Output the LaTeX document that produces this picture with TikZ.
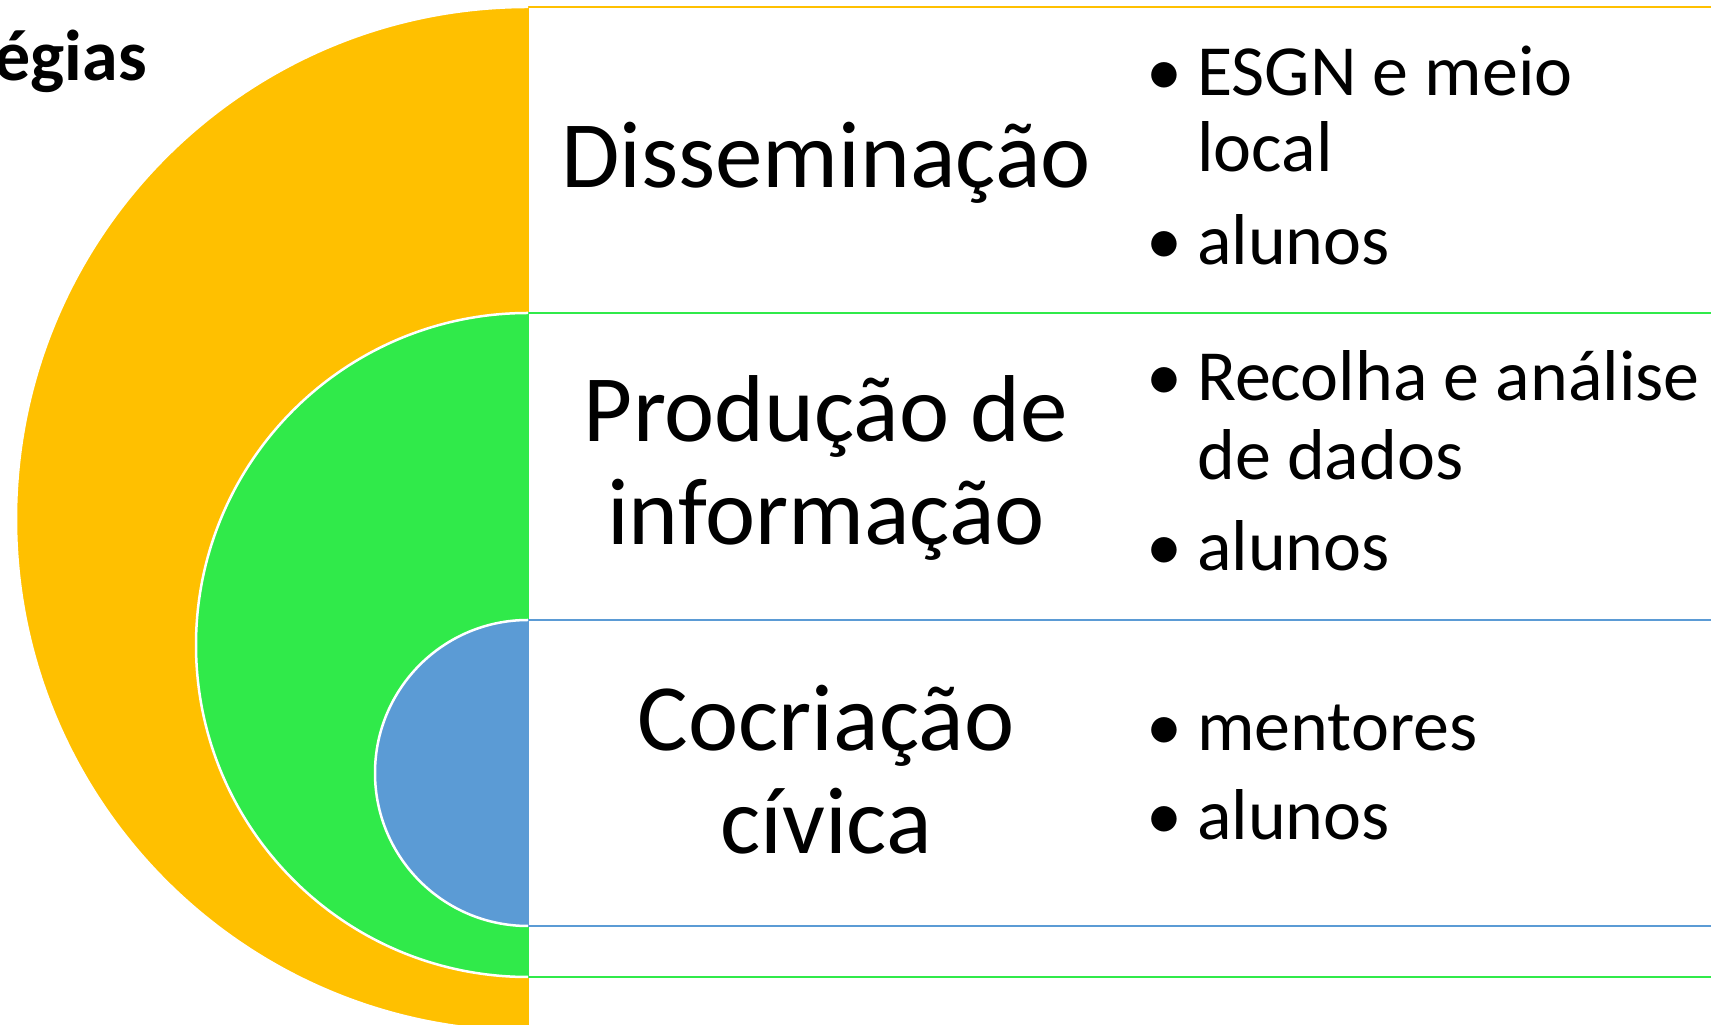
\documentclass[tikz,border=0pt]{standalone}
\usepackage{fontspec}
\setmainfont{Carlito}
\definecolor{cyellow}{HTML}{FFC000}
\definecolor{cgreen}{HTML}{30EA4A}
\definecolor{cblue}{HTML}{5B9BD5}
\tikzset{
  half/.style={line width=2.5pt, draw=white},
  panel/.style={line width=2.5pt, fill=white},
  lbl/.style={anchor=base, inner sep=0pt, font=\fontsize{95}{103}\selectfont},
  item/.style={anchor=base west, inner sep=0pt, font=\fontsize{72}{78}\selectfont},
}
\newcommand{\bul}{\makebox[51pt][l]{\hspace*{0pt}•}}
\begin{document}
\begin{tikzpicture}[x=1pt,y=1pt]
\useasboundingbox (0,0) rectangle (1711,1025);
\clip (0,0) rectangle (1711,1025);
\fill[white] (0,0) rectangle (1711,1025);
% yellow
\draw[panel, draw=cyellow] (528,-6) rectangle (1740,1018);
\fill[cyellow] (528,1018) arc[start angle=90, end angle=270, radius=512] -- cycle;
\draw[half] (528,1018) arc[start angle=90, end angle=270, radius=512];
% green
\draw[panel, draw=cgreen] (528,48) rectangle (1740,712);
\fill[cgreen] (528,712) arc[start angle=90, end angle=270, radius=332] -- cycle;
\draw[half] (528,712) arc[start angle=90, end angle=270, radius=332];
% blue
\draw[panel, draw=cblue] (528,99) rectangle (1740,405);
\fill[cblue] (528,405) arc[start angle=90, end angle=270, radius=153] -- cycle;
\draw[half] (528,405) arc[start angle=90, end angle=270, radius=153];
% title
\node[anchor=base east, inner sep=0pt, font=\fontsize{72}{80}\selectfont\bfseries] (title) at (147,944) {Estratégias};
% labels
\node[lbl] (dis) at (826,837) {Disseminação};
\node[lbl] (pro1) at (826,583) {Produção de};
\node[lbl] (pro2) at (826,480) {informação};
\node[lbl] (coc1) at (826,274) {Cocriação};
\node[lbl] (coc2) at (826,171) {cívica};
% bullets
\node[item] (b1) at (1146,929) {\bul ESGN e meio};
\node[item] (b1b) at (1197,853) {local};
\node[item] (b2) at (1146,760) {\bul alunos};
\node[item] (b3) at (1146,624) {\bul Recolha e análise};
\node[item] (b3b) at (1197,545) {de dados};
\node[item] (b4) at (1146,454) {\bul alunos};
\node[item] (b5) at (1146,274) {\bul mentores};
\node[item] (b6) at (1146,185) {\bul alunos};
\end{tikzpicture}
\end{document}
